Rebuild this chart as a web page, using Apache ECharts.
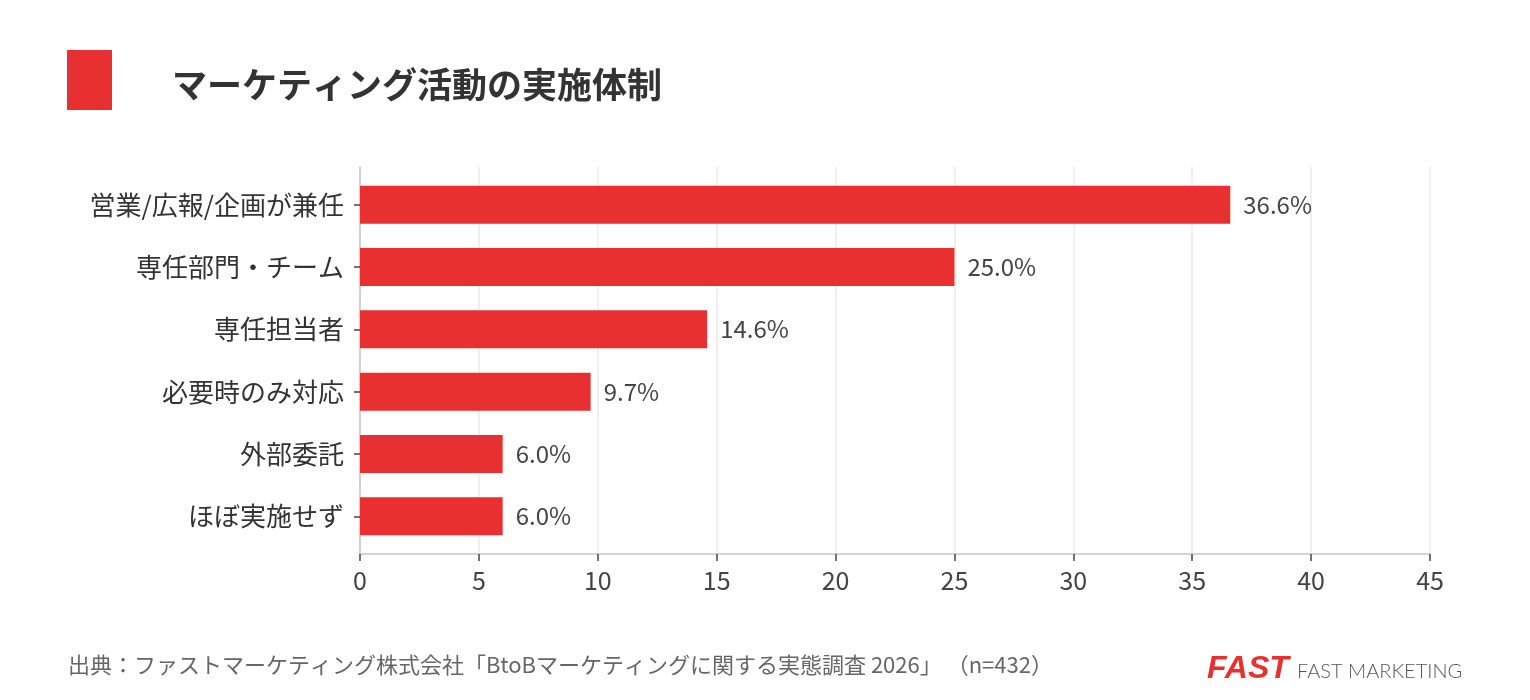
<!DOCTYPE html>
<html><head><meta charset="utf-8">
<script src="https://cdn.jsdelivr.net/npm/echarts@6/dist/echarts.min.js"></script>
<style>html,body{margin:0;padding:0;background:#fff}#c{width:1530px;height:700px}</style>
</head><body><div id="c"></div>
<script>
const categories = ['営業/広報/企画が兼任','専任部門・チーム','専任担当者','必要時のみ対応','外部委託','ほぼ実施せず'];
const values = [36.6, 25.0, 14.6, 9.7, 6.0, 6.0];
const title = 'マーケティング活動の実施体制';
const source = '出典：ファストマーケティング株式会社「BtoBマーケティングに関する実態調査 2026」 （n=432）';
const FONT = '"Noto Sans CJK JP","Noto Sans",sans-serif';
const chart = echarts.init(document.getElementById('c'), null, {renderer:'canvas'});
chart.setOption({
  backgroundColor:'#fff',
  animation:false,
  textStyle:{fontFamily:FONT},
  grid:[
    {left:360,right:100,top:167,bottom:146,containLabel:false},
    {left:360,right:100,top:173.5,bottom:152.5,containLabel:false}
  ],
  xAxis:[
    {type:'value',gridIndex:0,min:0,max:45,interval:5,
      axisLine:{show:true,lineStyle:{color:'#c8c8c8',width:1.5}},
      axisTick:{show:true,length:7,lineStyle:{color:'#444',width:1.5}},
      axisLabel:{fontSize:25,color:'#444',margin:14,fontFamily:FONT},
      splitLine:{show:true,lineStyle:{color:'#ebebeb',width:1.5}}},
    {type:'value',gridIndex:1,min:0,max:45,interval:5,show:false}
  ],
  yAxis:[
    {type:'value',gridIndex:0,min:0,max:1,
      axisLine:{show:true,lineStyle:{color:'#c8c8c8',width:1.5}},
      axisTick:{show:false},axisLabel:{show:false},splitLine:{show:false}},
    {type:'category',gridIndex:1,inverse:true,data:categories,
      axisLine:{show:false},
      axisTick:{show:true,alignWithLabel:true,length:6,lineStyle:{color:'#444',width:1.5}},
      axisLabel:{fontSize:26,color:'#333',margin:16,fontFamily:FONT}}
  ],
  series:[{type:'bar',xAxisIndex:1,yAxisIndex:1,data:values,barWidth:38,
    itemStyle:{color:'#e83030'},
    label:{show:true,position:'right',distance:13,fontSize:24,color:'#444',fontFamily:FONT,
      formatter:p=>p.value.toFixed(1)+'%'}}],
  graphic:[
    {type:'rect',left:67,top:50,shape:{width:45,height:60},style:{fill:'#e83030'}},
    {type:'text',left:172,top:67,style:{text:title,font:'bold 35px '+FONT,fill:'#333'}},
    {type:'text',left:68,top:654,style:{text:source,font:'22px '+FONT,fill:'#666'}},
    {type:'text',left:1207,top:653,style:{text:'FAST',font:'italic 900 32px "Liberation Sans",sans-serif',fill:'#e83030'}},
    {type:'text',left:1297,top:662,style:{text:'FAST MARKETING',font:'300 20px Lato,"Noto Sans",sans-serif',fill:'#555'}}
  ]
});
</script></body></html>
